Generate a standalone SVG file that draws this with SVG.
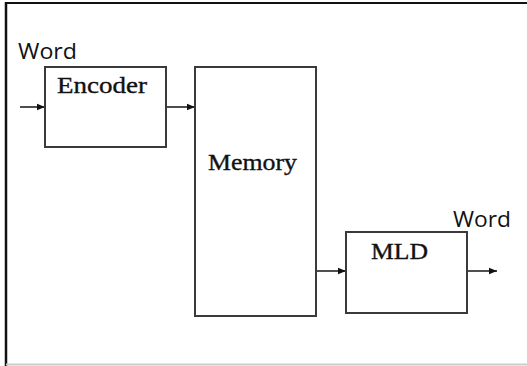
<svg xmlns="http://www.w3.org/2000/svg" width="527" height="366" viewBox="0 0 527 366">
<style>
.box{fill:#fff;stroke:#3a3a3a;stroke-width:2}
.lbl{font-family:"Liberation Serif","DejaVu Serif",serif;font-size:23px;fill:#111;stroke:#111;stroke-width:0.35}
.word{font-family:"Open Sans","Liberation Sans",sans-serif;font-size:21px;fill:#111}
.conn{stroke:#222;stroke-width:1.6;fill:none;marker-end:url(#ah)}
</style>
<defs>
<marker id="ah" viewBox="0 0 10 10" refX="10" refY="5" markerWidth="8" markerHeight="8" markerUnits="userSpaceOnUse" orient="auto">
<path d="M0,1 L10,5 L0,9 z" fill="#111"/>
</marker>
</defs>
<rect x="0" y="0" width="527" height="366" fill="#fff"/>
<g id="frame">
<line x1="6" y1="3" x2="527" y2="3" stroke="#111" stroke-width="2"/>
<line x1="6" y1="2" x2="6" y2="366" stroke="#111" stroke-width="2.5"/>
<line x1="6" y1="364.5" x2="527" y2="364.5" stroke="#ccc" stroke-width="2"/>
</g>
<g id="connectors">
<line class="conn" x1="20" y1="107" x2="45" y2="107"/>
<line class="conn" x1="166" y1="107" x2="195" y2="107"/>
<line class="conn" x1="316" y1="271" x2="346" y2="271"/>
<line class="conn" x1="467" y1="271" x2="497" y2="271"/>
</g>
<g id="encoder">
<rect class="box" x="45" y="67" width="121" height="80"/>
<text class="lbl" x="57" y="93" textLength="90" lengthAdjust="spacingAndGlyphs">Encoder</text>
</g>
<g id="memory">
<rect class="box" x="195" y="67" width="121" height="249"/>
<text class="lbl" x="208" y="170" textLength="89" lengthAdjust="spacingAndGlyphs">Memory</text>
</g>
<g id="mld">
<rect class="box" x="346" y="232" width="121" height="81"/>
<text class="lbl" x="371" y="259" textLength="57" lengthAdjust="spacingAndGlyphs">MLD</text>
</g>
<g id="word-in">
<text class="word" x="18" y="59" textLength="59" lengthAdjust="spacingAndGlyphs">Word</text>
</g>
<g id="word-out">
<text class="word" x="453" y="227" textLength="58" lengthAdjust="spacingAndGlyphs">Word</text>
</g>
</svg>
